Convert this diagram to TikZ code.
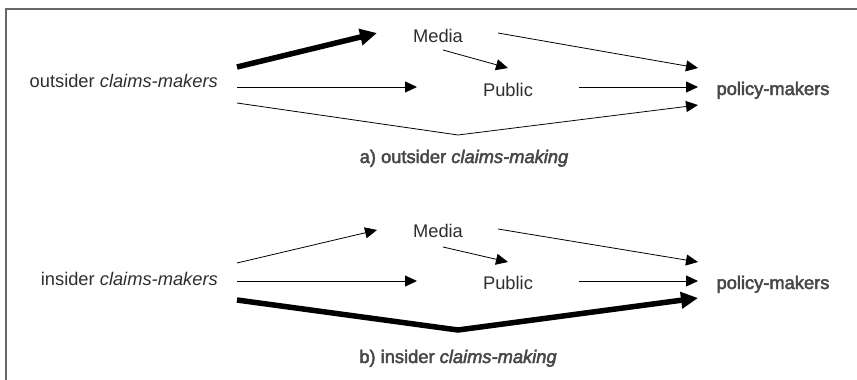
\documentclass[tikz,border=0pt]{standalone}
\usepackage{fontspec}
\setmainfont{Liberation Sans}
\newfontfamily\demifont[FakeBold=2.5]{Liberation Sans}
\usetikzlibrary{arrows.meta,positioning,calc}

\begin{document}
\begin{tikzpicture}[x = 1pt, y = -1pt,
  lbl/.style = {inner sep = 0pt, text = black!82, font = \fontsize{18.3}{21}\selectfont},
  bld/.style = {inner sep = 0pt, text = black!72, font = \fontsize{18.3}{21}\demifont},
  thin/.style = {line width = .8pt, -{Triangle[length = 12pt, width = 11pt]}},
  fat/.style = {line width = 5.5pt, -{Triangle[length = 17pt, width = 16pt]}}]
\useasboundingbox (0,0) rectangle (857,380);
\draw[line width = 1.6pt, black!60] (6,380) -- (6,9) -- (857,9);

% a) outsider
\node[lbl, anchor = base east] (oc) at (218,87) {outsider \textit{claims-makers}};
\node[lbl, anchor = base] (ma) at (438,42) {Media};
\node[lbl, anchor = base] (pa) at (508,96) {Public};
\node[bld, anchor = base] (pma) at (773,95) {policy-makers};
\node[bld, anchor = base] (capa) at (464,163) {a) outsider \textit{claims-making}};
\coordinate (oc1) at (237,67);
\coordinate (oc2) at (237,87);
\coordinate (oc3) at (237,103);
\coordinate (va) at (458,135);
\coordinate (ma1) at (377,33);
\coordinate (ma2) at (443,50);
\coordinate (ma3) at (498,33);
\coordinate (pa1) at (508,68);
\coordinate (pa2) at (417,87);
\coordinate (pa3) at (579,87);
\coordinate (pma1) at (698,68);
\coordinate (pma2) at (698,87);
\coordinate (pma3) at (698,105);
\draw[fat] (oc1) -- (ma1);
\draw[thin] (oc2) -- (pa2);
\draw[thin] (oc3) -- (va) -- (pma3);
\draw[thin] (ma2) -- (pa1);
\draw[thin] (ma3) -- (pma1);
\draw[thin] (pa3) -- (pma2);

% b) insider
\node[lbl, anchor = base east] (ic) at (218,285) {insider \textit{claims-makers}};
\node[lbl, anchor = base] (mb) at (438,237) {Media};
\node[lbl, anchor = base] (pb) at (508,289) {Public};
\node[bld, anchor = base] (pmb) at (773,289) {policy-makers};
\node[bld, anchor = base] (capb) at (458,363) {b) insider \textit{claims-making}};
\coordinate (ic1) at (237,263);
\coordinate (ic2) at (237,281);
\coordinate (ic3) at (237,300);
\coordinate (vb) at (458,330);
\coordinate (mb1) at (377,230);
\coordinate (mb2) at (443,247);
\coordinate (mb3) at (498,229);
\coordinate (pb1) at (508,262);
\coordinate (pb2) at (417,281);
\coordinate (pb3) at (579,281);
\coordinate (pmb1) at (698,262);
\coordinate (pmb2) at (698,281);
\coordinate (pmb3) at (698,298);
\draw[thin] (ic1) -- (mb1);
\draw[thin] (ic2) -- (pb2);
\draw[fat] (ic3) -- (vb) -- (pmb3);
\draw[thin] (mb2) -- (pb1);
\draw[thin] (mb3) -- (pmb1);
\draw[thin] (pb3) -- (pmb2);
\end{tikzpicture}
\end{document}
